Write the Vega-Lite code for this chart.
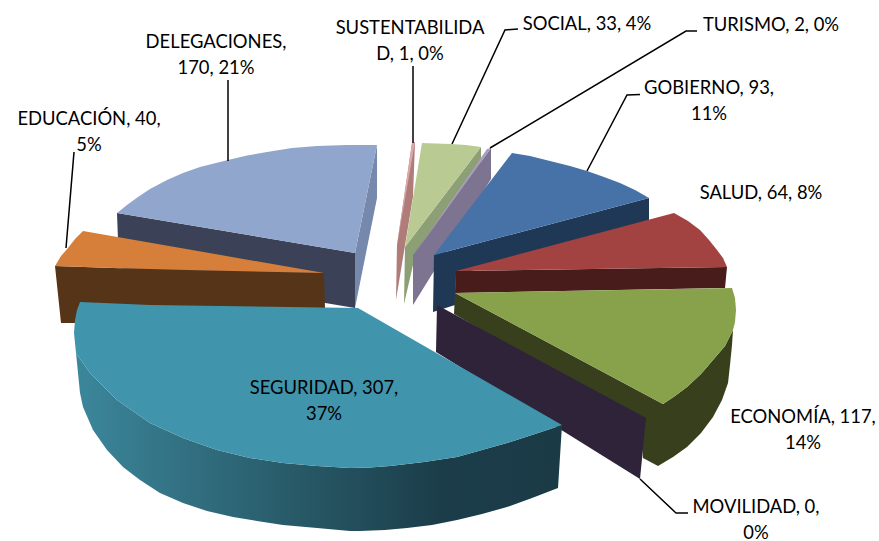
{"$schema":"https://vega.github.io/schema/vega-lite/v6.json","width":879,"height":541,"padding":0,"autosize":"none","background":"white","view":{"stroke":null},
"datasets":{
"faces":[
{"part":"DELEGACIONES side","layerGroup":"flat","x":[377,355,355,377],"y":[145,253,308,198]},
{"part":"DELEGACIONES front","layerGroup":"flat","x":[117,355,355,119],"y":[213,253,308,268]},
{"part":"DELEGACIONES top","layerGroup":"flat","x":[117,127,138,150,167,183,200,228,247,267,292,317,347,377,355],"y":[213,205,197,189,180,173,167,160,155.5,152,148,146,145,145,253]},
{"part":"EDUCACIÓN front","layerGroup":"flat","x":[55,113,187,324,325,80,61],"y":[266,268,270,273,308,323,323]},
{"part":"EDUCACIÓN top","layerGroup":"flat","x":[83,75,68,61,55,113,187,324],"y":[231,239,248,256,266,268,270,273]},
{"part":"SUSTENTABILIDAD front","layerGroup":"flat","x":[397,412,415,413,396],"y":[245,143,142,197,300]},
{"part":"SUSTENTABILIDAD top","layerGroup":"flat","x":[397,412,415],"y":[245,143,142]},
{"part":"SOCIAL front","layerGroup":"flat","x":[405,481,481,413,404],"y":[247,147,175,265,304]},
{"part":"SOCIAL top","layerGroup":"flat","x":[405,422,436,450,466,481],"y":[247,143,143.5,144,145,147]},
{"part":"TURISMO front","layerGroup":"flat","x":[491,491,413,413],"y":[148,179,305,255]},
{"part":"TURISMO top","layerGroup":"flat","x":[413,487,491],"y":[256,149,148]},
{"part":"GOBIERNO front","layerGroup":"flat","x":[434,649,649,456,455,433],"y":[255,198,222,275,305,312]},
{"part":"GOBIERNO top","layerGroup":"flat","x":[434,512,530,550,570,587,604,620,635,649],"y":[255,153,156,161,166,171,177,183,190,198]},
{"part":"SALUD front","layerGroup":"flat","x":[456,727,725,455],"y":[271,267,288,293]},
{"part":"SALUD top","layerGroup":"flat","x":[456,674,688,700,709,717,723,727],"y":[271,213,221,230,240,250,258,267]},
{"part":"ECONOMÍA front","layerGroup":"flat","x":[455,663,675,687,701,713,725,733,732,730,728,722,713,701,687,673,658,643,640,454],"y":[293,404,396,387,374,360,346,330,345,365,383,400,417,433,447,457,466,458,420,314]},
{"part":"ECONOMÍA top","layerGroup":"flat","x":[455,732,735,736,735,733,725,713,701,687,675,663],"y":[293,288,298,310,322,330,346,360,374,387,396,404]},
{"part":"MOVILIDAD front","layerGroup":"flat","x":[437,646,640,436],"y":[305,418,479,352]},
{"part":"SEGURIDAD front","layerGroup":"grad","x":[74,76,90,117,150,183,217,250,283,317,350,370,390,424,457,482,507,535,562,558,532,507,482,457,432,407,385,360,350,317,283,257,233,207,183,160,140,123,107,93,83,80],"y":[333,353,373,400,423,438,450,458,463,466,468,467.5,466,462,457,450,443,434,425,488,498,507,514,520,525,528,530,531,531,528,525,521,517,511,503,493,480,467,450,430,407,393]},
{"part":"SEGURIDAD top","layerGroup":"last","x":[80,150,358,562,535,507,482,457,424,390,370,350,317,283,250,217,183,150,117,90,76,74,75,77],"y":[302,305,308,425,434,443,450,457,462,466,467.5,468,466,463,458,450,438,423,400,373,353,333,320,310]}
],
"leaders":[
{"label":"DELEGACIONES","x":[228,228],"y":[80,161]},
{"label":"EDUCACIÓN","x":[74,66],"y":[152,248]},
{"label":"SUSTENTABILIDAD","x":[413,413],"y":[66,143]},
{"label":"SOCIAL","x":[518,505,452],"y":[29,30,144]},
{"label":"TURISMO","x":[697,686,490],"y":[31,31,148]},
{"label":"GOBIERNO","x":[640,627,587],"y":[94.5,95,171]},
{"label":"MOVILIDAD","x":[640,676,688],"y":[479,513,513]}
],
"labels":[
{"category":"DELEGACIONES","value":170,"pct":"21%","lines":["DELEGACIONES,","170, 21%"],"x":216,"y":42},
{"category":"EDUCACIÓN","value":40,"pct":"5%","lines":["EDUCACIÓN, 40,","5%"],"x":89,"y":119},
{"category":"SUSTENTABILIDAD","value":1,"pct":"0%","lines":["SUSTENTABILIDA","D, 1, 0%"],"x":410,"y":28},
{"category":"SOCIAL","value":33,"pct":"4%","lines":["SOCIAL, 33, 4%"],"x":587,"y":24},
{"category":"TURISMO","value":2,"pct":"0%","lines":["TURISMO, 2, 0%"],"x":771,"y":25},
{"category":"GOBIERNO","value":93,"pct":"11%","lines":["GOBIERNO, 93,","11%"],"x":709,"y":88},
{"category":"SALUD","value":64,"pct":"8%","lines":["SALUD, 64, 8%"],"x":761,"y":193},
{"category":"ECONOMÍA","value":117,"pct":"14%","lines":["ECONOMÍA, 117,","14%"],"x":803,"y":417},
{"category":"MOVILIDAD","value":0,"pct":"0%","lines":["MOVILIDAD, 0,","0%"],"x":756,"y":507},
{"category":"SEGURIDAD","value":307,"pct":"37%","lines":["SEGURIDAD, 307,","37%"],"x":324,"y":388}
]},
"encoding":{
"x":{"field":"x","type":"quantitative","axis":null,"scale":{"domain":[0,879],"nice":false,"zero":false}},
"y":{"field":"y","type":"quantitative","axis":null,"scale":{"domain":[541,0],"nice":false,"zero":false}}
},
"layer":[
{"data":{"name":"faces"},"transform":[{"filter":"datum.layerGroup==='flat'"},{"flatten":["x","y"]},{"window":[{"op":"row_number","as":"i"}]}],
"mark":{"type":"line","strokeWidth":0,"interpolate":"linear-closed"},
"encoding":{"detail":{"field":"part"},"order":{"field":"i","type":"quantitative"},
"fill":{"field":"part","type":"nominal","legend":null,"scale":{
"domain":["DELEGACIONES side","DELEGACIONES front","DELEGACIONES top","EDUCACIÓN front","EDUCACIÓN top","SUSTENTABILIDAD front","SUSTENTABILIDAD top","SOCIAL front","SOCIAL top","TURISMO front","TURISMO top","GOBIERNO front","GOBIERNO top","SALUD front","SALUD top","ECONOMÍA front","ECONOMÍA top","MOVILIDAD front"],
"range":["#7688ab","#3b4257","#91a6cd","#553417","#d67f3a","#b07c7a","#d9a8a8","#8d9f75","#b9ca92","#7d7491","#a99dbd","#1f3855","#4672a8","#481c1a","#a34341","#383f1d","#87a24b","#2e2339"]}}}},
{"data":{"name":"faces"},"transform":[{"filter":"datum.layerGroup==='grad'"},{"flatten":["x","y"]},{"window":[{"op":"row_number","as":"i"}]}],
"mark":{"type":"line","strokeWidth":0,"interpolate":"linear-closed","fill":{"gradient":"linear","x1":0,"x2":1,"y1":0,"y2":0,"stops":[{"offset":0,"color":"#3c879c"},{"offset":0.45,"color":"#285a68"},{"offset":0.75,"color":"#1b3d49"},{"offset":1,"color":"#1a3a46"}]}},
"encoding":{"order":{"field":"i","type":"quantitative"}}},
{"data":{"name":"faces"},"transform":[{"filter":"datum.layerGroup==='last'"},{"flatten":["x","y"]},{"window":[{"op":"row_number","as":"i"}]}],
"mark":{"type":"line","strokeWidth":0,"interpolate":"linear-closed","fill":"#4095ad"},
"encoding":{"order":{"field":"i","type":"quantitative"}}},
{"data":{"name":"leaders"},"transform":[{"flatten":["x","y"]},{"window":[{"op":"row_number","as":"i"}]}],
"mark":{"type":"line","stroke":"#000000","strokeWidth":1.5},
"encoding":{"detail":{"field":"label"},"order":{"field":"i","type":"quantitative"}}},
{"data":{"name":"labels"},
"mark":{"type":"text","font":"Lato","fontSize":18.4,"color":"#000000","align":"center","baseline":"middle","lineHeight":26},
"encoding":{"text":{"field":"lines"}}}
]}
